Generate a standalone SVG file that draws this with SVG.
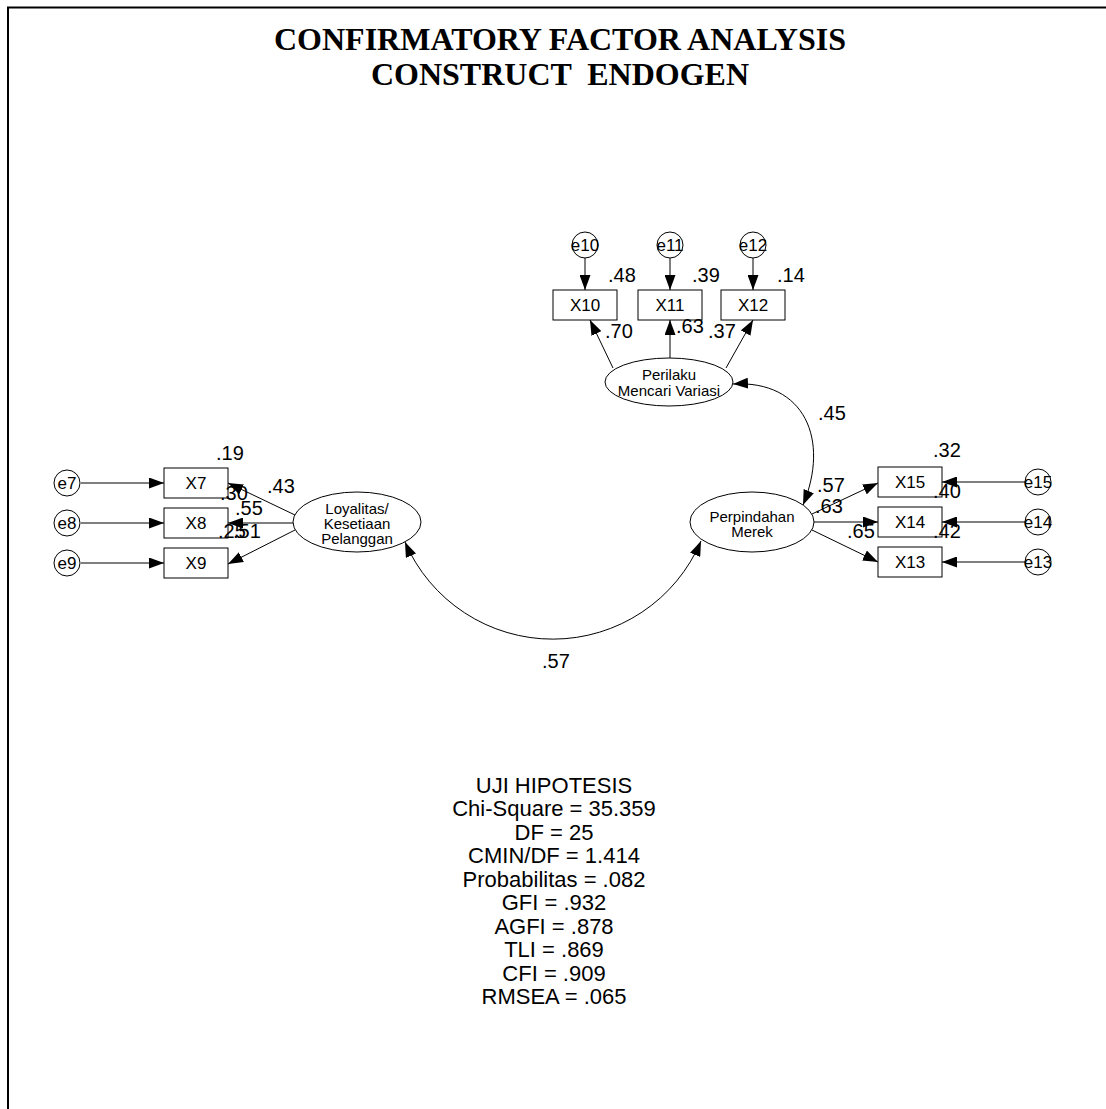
<svg xmlns="http://www.w3.org/2000/svg" width="1106" height="1109" viewBox="0 0 1106 1109">
<defs>
<marker id="ah" markerUnits="userSpaceOnUse" markerWidth="15" markerHeight="11" refX="15" refY="5.5" orient="auto-start-reverse">
<path d="M0,0 L15,5.5 L0,11 z" fill="#000"/>
</marker>
<style>
.ln{stroke:#000;stroke-width:1;fill:none;marker-end:url(#ah)}
.cv{stroke:#000;stroke-width:1;fill:none;marker-start:url(#ah);marker-end:url(#ah)}
.bx{fill:#fff;stroke:#000;stroke-width:1}
.el{fill:#fff;stroke:#000;stroke-width:1}
.t{font-family:"Liberation Sans",Arial,sans-serif;fill:#000}
.bl{font-size:17px;text-anchor:middle}
.el-t{font-size:15px;text-anchor:middle}
.ld{font-size:20px}
.st{font-size:22px;text-anchor:middle}
.ti{font-family:"Liberation Serif","Times New Roman",serif;font-weight:bold;font-size:32px;text-anchor:middle}
</style>
</defs>
<rect width="1106" height="1109" fill="#fff"/>
<path d="M8,1109 V7.5 H1106" stroke="#000" stroke-width="2" fill="none"/>
<g id="title">
<text class="ti" x="560" y="50">CONFIRMATORY FACTOR ANALYSIS</text>
<text class="ti" x="560" y="85" xml:space="preserve">CONSTRUCT  ENDOGEN</text>
</g>
<g id="connectors">
<line class="ln" x1="585" y1="258" x2="585" y2="290"/>
<line class="ln" x1="670" y1="258" x2="670" y2="290"/>
<line class="ln" x1="753" y1="258" x2="753" y2="290"/>
<line class="ln" x1="613" y1="368" x2="590" y2="320"/>
<line class="ln" x1="670" y1="358" x2="670" y2="320"/>
<line class="ln" x1="726" y1="368" x2="753" y2="320"/>
<line class="ln" x1="81" y1="483" x2="164" y2="483"/>
<line class="ln" x1="81" y1="523" x2="164" y2="523"/>
<line class="ln" x1="81" y1="563" x2="164" y2="563"/>
<line class="ln" x1="295" y1="515" x2="228" y2="483"/>
<line class="ln" x1="293" y1="523" x2="228" y2="523"/>
<line class="ln" x1="295" y1="530" x2="228" y2="564"/>
<line class="ln" x1="1025" y1="482" x2="942" y2="482"/>
<line class="ln" x1="1025" y1="522" x2="942" y2="522"/>
<line class="ln" x1="1025" y1="562" x2="942" y2="562"/>
<line class="ln" x1="812" y1="514" x2="878" y2="483"/>
<line class="ln" x1="814" y1="522" x2="878" y2="522"/>
<line class="ln" x1="812" y1="530" x2="878" y2="562"/>
<path class="cv" d="M405,542 A161,161 0 0 0 701,541"/>
<path class="cv" d="M733,384 C805,380 830,440 803,505"/>
</g>
<g id="e10"><circle class="el" cx="585" cy="245" r="13"/><text class="t bl" x="585" y="251">e10</text></g>
<g id="e11"><circle class="el" cx="670" cy="245" r="13"/><text class="t bl" x="670" y="251">e11</text></g>
<g id="e12"><circle class="el" cx="753" cy="245" r="13"/><text class="t bl" x="753" y="251">e12</text></g>
<g id="X10"><rect class="bx" x="553" y="290" width="64" height="30"/><text class="t bl" x="585" y="311">X10</text></g>
<g id="X11"><rect class="bx" x="638" y="290" width="64" height="30"/><text class="t bl" x="670" y="311">X11</text></g>
<g id="X12"><rect class="bx" x="721" y="290" width="64" height="30"/><text class="t bl" x="753" y="311">X12</text></g>
<g id="perilaku"><ellipse class="el" cx="669" cy="382" rx="64" ry="24"/><text class="t el-t" x="669" y="380">Perilaku</text><text class="t el-t" x="669" y="396">Mencari Variasi</text></g>
<g id="e7"><circle class="el" cx="67" cy="483" r="13"/><text class="t bl" x="67" y="489">e7</text></g>
<g id="e8"><circle class="el" cx="67" cy="523" r="13"/><text class="t bl" x="67" y="529">e8</text></g>
<g id="e9"><circle class="el" cx="67" cy="563" r="13"/><text class="t bl" x="67" y="569">e9</text></g>
<g id="X7"><rect class="bx" x="164" y="468" width="64" height="30"/><text class="t bl" x="196" y="489">X7</text></g>
<g id="X8"><rect class="bx" x="164" y="508" width="64" height="30"/><text class="t bl" x="196" y="529">X8</text></g>
<g id="X9"><rect class="bx" x="164" y="548" width="64" height="30"/><text class="t bl" x="196" y="569">X9</text></g>
<g id="loyalitas"><ellipse class="el" cx="357" cy="522" rx="64" ry="30"/><text class="t el-t" x="357" y="514">Loyalitas/</text><text class="t el-t" x="357" y="529">Kesetiaan</text><text class="t el-t" x="357" y="544">Pelanggan</text></g>
<g id="e15"><circle class="el" cx="1038" cy="482" r="13"/><text class="t bl" x="1038" y="488">e15</text></g>
<g id="e14"><circle class="el" cx="1038" cy="522" r="13"/><text class="t bl" x="1038" y="528">e14</text></g>
<g id="e13"><circle class="el" cx="1038" cy="562" r="13"/><text class="t bl" x="1038" y="568">e13</text></g>
<g id="X15"><rect class="bx" x="878" y="467" width="64" height="30"/><text class="t bl" x="910" y="488">X15</text></g>
<g id="X14"><rect class="bx" x="878" y="507" width="64" height="30"/><text class="t bl" x="910" y="528">X14</text></g>
<g id="X13"><rect class="bx" x="878" y="547" width="64" height="30"/><text class="t bl" x="910" y="568">X13</text></g>
<g id="perpindahan"><ellipse class="el" cx="752" cy="522" rx="62" ry="30"/><text class="t el-t" x="752" y="522">Perpindahan</text><text class="t el-t" x="752" y="537">Merek</text></g>
<g id="labels">
<text class="t ld" x="608" y="282">.48</text>
<text class="t ld" x="692" y="282">.39</text>
<text class="t ld" x="777" y="282">.14</text>
<text class="t ld" x="605" y="338">.70</text>
<text class="t ld" x="676" y="333">.63</text>
<text class="t ld" x="708" y="338">.37</text>
<text class="t ld" x="818" y="420">.45</text>
<text class="t ld" x="216" y="460">.19</text>
<text class="t ld" x="267" y="493">.43</text>
<text class="t ld" x="220" y="500">.30</text>
<text class="t ld" x="235" y="515">.55</text>
<text class="t ld" x="218" y="538">.25</text>
<text class="t ld" x="233" y="538">.51</text>
<text class="t ld" x="933" y="457">.32</text>
<text class="t ld" x="817" y="492">.57</text>
<text class="t ld" x="815" y="513">.63</text>
<text class="t ld" x="933" y="498">.40</text>
<text class="t ld" x="847" y="538">.65</text>
<text class="t ld" x="933" y="538">.42</text>
<text class="t ld" x="542" y="668">.57</text>
</g>
<g id="stats">
<text class="t st" x="554" y="793">UJI HIPOTESIS</text>
<text class="t st" x="554" y="816">Chi-Square = 35.359</text>
<text class="t st" x="554" y="840">DF = 25</text>
<text class="t st" x="554" y="863">CMIN/DF = 1.414</text>
<text class="t st" x="554" y="887">Probabilitas = .082</text>
<text class="t st" x="554" y="910">GFI = .932</text>
<text class="t st" x="554" y="934">AGFI = .878</text>
<text class="t st" x="554" y="957">TLI = .869</text>
<text class="t st" x="554" y="981">CFI = .909</text>
<text class="t st" x="554" y="1004">RMSEA = .065</text>
</g>
</svg>
